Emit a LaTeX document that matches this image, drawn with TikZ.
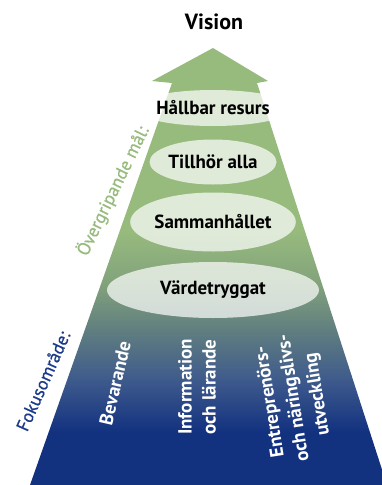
\documentclass[tikz,border=0pt]{standalone}
\usepackage{fontspec}
\setmainfont{PT Sans}
\newfontfamily\medfont[FakeBold=0.7]{PT Sans}
\usetikzlibrary{shapes.geometric}
\definecolor{pgreen}{HTML}{97BA7D}
\definecolor{pmoss}{HTML}{82A27C}
\definecolor{pteal}{HTML}{62807F}
\definecolor{pslate}{HTML}{3E5A8C}
\definecolor{pblue}{HTML}{12317F}
\definecolor{fokusblue}{HTML}{1B3A8A}
\pgfdeclareverticalshading{pyramidshade}{100bp}{color(0bp)=(pblue); color(31bp)=(pblue);
  color(37bp)=(pslate); color(43bp)=(pteal); color(48bp)=(pmoss); color(54bp)=(pgreen); color(100bp)=(pgreen)}
\tikzset{
  goal/.style={ellipse, fill=white, fill opacity=0.7, text opacity=1, inner sep=0pt,
    font=\bfseries\fontsize{19}{22}\selectfont},
  focus/.style={text=white, align=center, font=\bfseries\fontsize{19}{24}\selectfont},
  sidelabel/.style={font=\medfont\fontsize{18}{22}\selectfont}
}
\begin{document}
\begin{tikzpicture}[x=1pt, y=-1pt]
			\useasboundingbox (0,0) rectangle (382,485);
			% pyramid with arrow head
			\shade[shading=pyramidshade] (213,48) -- (268,81) -- (257,83) -- (387,485)
			  -- (30,485) -- (172,83) -- (152,81) -- cycle;
			\node (vision) at (214,22) {\bfseries\fontsize{22}{26}\selectfont Vision};
			% goals
			\foreach \n/\y/\w/\h/\t in {hallbar/108/115/36/Hållbar resurs, tillhor/162/127/45/Tillhör alla,
			    samman/222/162/59/Sammanhållet, varde/290/212/56/Värdetryggat} {
					\node[goal, minimum width=\w, minimum height=\h] (\n) at (213,\y) {\t};
				}
			% focus areas
			\node[focus, rotate=77] (bevarande) at (115,383) {Bevarande};
			\node[focus, rotate=90] (information) at (197,387) {Information\\och lärande};
			\node[focus, rotate=99] (entrepren) at (294,398) {Entreprenörs-\\och näringslivs-\\utveckling};
			% side labels
			\node[sidelabel, rotate=64, text=pgreen] (overgrip) at (113,191) {Övergripande mål:};
			\node[sidelabel, rotate=66, text=fokusblue] (fokus) at (43,381) {Fokusområde:};
		\end{tikzpicture}
\end{document}
